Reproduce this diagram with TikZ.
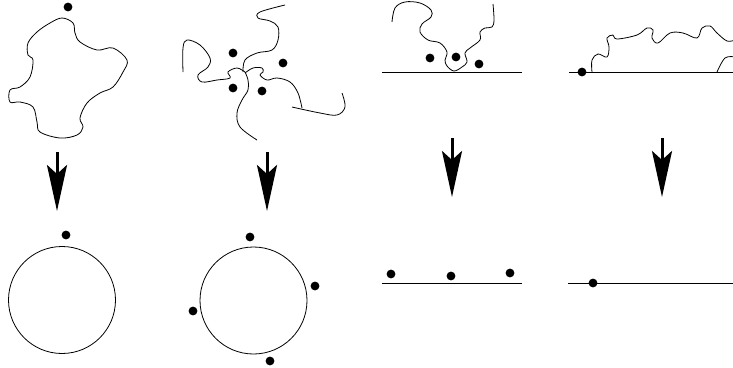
\documentclass[tikz,border=0pt]{standalone}
\usetikzlibrary{arrows.meta}
\begin{document}
\begin{tikzpicture}[x=1pt,y=-1pt,
  curve/.style={line width=0.8pt,line join=round},
  base/.style={line width=0.9pt},
  dot/.style={fill=black},
  bigarrow/.style={line width=3pt,-{Stealth[length=46pt,width=20pt,inset=9pt]}}]
\useasboundingbox (0,0) rectangle (733,367);
% arrows
\coordinate (a1s) at (57,152); \coordinate (a1e) at (57,211);
\coordinate (a2s) at (267,152); \coordinate (a2e) at (267,211);
\coordinate (a3s) at (452,138); \coordinate (a3e) at (452,197);
\coordinate (a4s) at (662,138); \coordinate (a4e) at (662,197);
\draw[bigarrow] (a1s) -- (a1e);
\draw[bigarrow] (a2s) -- (a2e);
\draw[bigarrow] (a3s) -- (a3e);
\draw[bigarrow] (a4s) -- (a4e);
% blob 1
\draw[curve] plot[smooth cycle,tension=0.6] coordinates {
 (62,18) (73,23) (75,33) (80,42) (97,50) (113,48) (127,60) (123,72) (113,87)
 (100,93) (87,103) (80,118) (83,127) (77,135) (60,138) (40,132) (37,122)
 (33,107) (20,102) (10,102) (10,90) (20,87) (30,77) (33,60) (28,55) (28,43)
 (37,32) (50,23)};
\fill[dot] (68,7) circle (4.4pt);
% chains 2
\draw[curve] plot[smooth,tension=0.6] coordinates {
 (243,72) (245,60) (257,53) (272,50) (278,40) (278,27) (270,21) (258,18) (260,12) (285,5)};
\draw[curve] plot[smooth,tension=0.6] coordinates {
 (245,72) (237,68) (228,72) (230,78) (217,80) (202,82) (198,75) (208,67) (210,58)
 (200,45) (187,40) (183,48) (183,72)};
\draw[curve] plot[smooth,tension=0.6] coordinates {
 (245,73) (253,68) (262,68) (263,72) (260,75) (267,80) (277,78) (290,82) (298,93) (302,108)};
\draw[curve] plot[smooth,tension=0.6] coordinates {
 (292,107) (320,113) (337,115) (345,107) (342,93)};
\draw[curve] plot[smooth,tension=0.6] coordinates {
 (245,72) (248,80) (248,90) (242,100) (237,113) (240,127) (257,140)};
\fill[dot] (233,53) circle (4.4pt);
\fill[dot] (283,63) circle (4.4pt);
\fill[dot] (233,88) circle (4.4pt);
\fill[dot] (262,91) circle (4.4pt);
% panel 3 top
\coordinate (l3a) at (382,72); \coordinate (l3b) at (522,72);
\draw[base] (l3a) -- (l3b);
\draw[curve] plot[smooth,tension=0.6] coordinates {
 (392,22) (395,8) (405,2) (420,3) (431,10) (431,17) (422,24) (420,32) (428,40)
 (440,43) (447,52) (445,60) (447,66) (454,71) (462,67) (467,62) (465,53) (470,48)
 (480,40) (480,32) (485,28) (492,27) (494,20) (493,4)};
\fill[dot] (430,58) circle (4.4pt);
\fill[dot] (456,57) circle (4.4pt);
\fill[dot] (479,64) circle (4.4pt);
% panel 4 top
\coordinate (l4a) at (569,72); \coordinate (l4b) at (733,72);
\draw[base] (l4a) -- (l4b);
\draw[curve] plot[smooth,tension=0.6] coordinates {
 (592,72) (592,60) (598,54) (607,57) (609,47) (607,38) (613,35) (617,39)
 (637,35) (647,28) (653,30) (652,38) (658,43) (670,33) (683,33) (697,38)
 (702,28) (710,26) (717,33) (727,41) (735,40)};
\draw[curve] plot[smooth,tension=0.6] coordinates {(717,72) (725,58) (735,57)};
\fill[dot] (582,72) circle (4.4pt);
% bottom circles
\coordinate (c1) at (62,300);
\coordinate (c2) at (253.5,300.5);
\draw[curve] (c1) circle (53.5);
\draw[curve] (c2) circle (53.5);
\fill[dot] (66,235) circle (4.4pt);
\fill[dot] (250,237) circle (4.4pt);
\fill[dot] (315,286) circle (4.4pt);
\fill[dot] (193,311) circle (4.4pt);
\fill[dot] (270,361) circle (4.4pt);
% bottom lines
\coordinate (m3a) at (382,283); \coordinate (m3b) at (522,283);
\coordinate (m4a) at (568,283); \coordinate (m4b) at (733,283);
\draw[base] (m3a) -- (m3b);
\draw[base] (m4a) -- (m4b);
\fill[dot] (391,274) circle (4.4pt);
\fill[dot] (451,276) circle (4.4pt);
\fill[dot] (510,273) circle (4.4pt);
\fill[dot] (593,283) circle (4.4pt);
\end{tikzpicture}
\end{document}
